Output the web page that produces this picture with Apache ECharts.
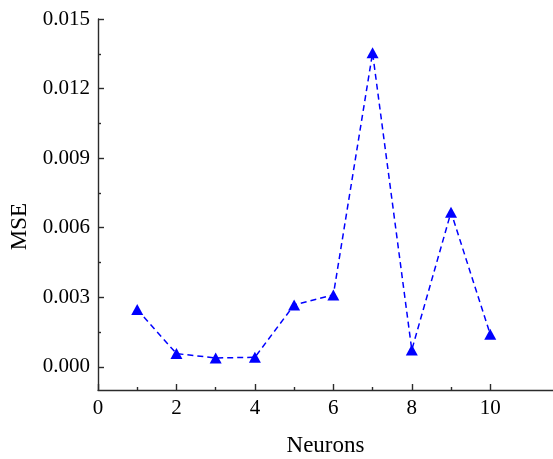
<!DOCTYPE html>
<html>
<head>
<meta charset="utf-8">
<script src="https://cdn.jsdelivr.net/npm/echarts@6/dist/echarts.min.js"></script>
<style>
  html, body { margin: 0; padding: 0; background: #fff; }
  #chart { width: 553px; height: 459px; }
</style>
</head>
<body>
<div id="chart"></div>
<script>
// Training error for networks with 1..10 hidden neurons
const neurons = [1, 2, 3, 4, 5, 6, 7, 8, 9, 10];
const mse = [0.00247, 0.00057, 0.00038, 0.00041, 0.00267, 0.0031, 0.01354, 0.00073, 0.00667, 0.0014];

// Axis tick positions
const xMajorTicks = [0, 2, 4, 6, 8, 10];
const xMinorTicks = [1, 3, 5, 7, 9];
const yMajorTicks = [0, 0.003, 0.006, 0.009, 0.012, 0.015];
const yMinorTicks = [0.0015, 0.0045, 0.0075, 0.0105, 0.0135];

const FONT = '"Liberation Serif", "Times New Roman", serif';
const AXIS_COLOR = '#2b2b2b';

const xRange = { min: 0, max: 11.6 };
const yRange = { min: -0.001, max: 0.015 };

const chart = echarts.init(document.getElementById('chart'), null, { renderer: 'canvas' });

chart.setOption({
  backgroundColor: '#ffffff',
  animation: false,
  grid: { left: 98, right: 0, top: 19, bottom: 69, containLabel: false, outerBoundsMode: 'none' },
  xAxis: [
    {
      type: 'value',
      min: xRange.min, max: xRange.max,
      name: 'Neurons',
      nameLocation: 'middle',
      nameGap: 44,
      nameTextStyle: { fontFamily: FONT, fontSize: 23, color: '#000' },
      axisLine: { show: true, onZero: false, lineStyle: { color: AXIS_COLOR, width: 1.4 } },
      axisTick: { show: true, inside: true, length: 6, customValues: xMajorTicks, lineStyle: { color: AXIS_COLOR, width: 1.4 } },
      axisLabel: { customValues: xMajorTicks, margin: 8, fontFamily: FONT, fontSize: 21, color: '#000' },
      splitLine: { show: false }
    },
    {
      type: 'value',
      position: 'bottom',
      min: xRange.min, max: xRange.max,
      axisLine: { show: false, onZero: false },
      axisTick: { show: true, inside: true, length: 3, customValues: xMinorTicks, lineStyle: { color: AXIS_COLOR, width: 1.4 } },
      axisLabel: { show: false },
      splitLine: { show: false }
    }
  ],
  yAxis: [
    {
      type: 'value',
      min: yRange.min, max: yRange.max,
      name: 'MSE',
      nameLocation: 'middle',
      nameGap: 59,
      nameRotate: 90,
      nameTextStyle: { fontFamily: FONT, fontSize: 23, color: '#000', padding: [0, 44, 0, 0] },
      axisLine: { show: true, onZero: false, lineStyle: { color: AXIS_COLOR, width: 1.4 } },
      axisTick: { show: true, inside: true, length: 6, customValues: yMajorTicks, lineStyle: { color: AXIS_COLOR, width: 1.4 } },
      axisLabel: {
        customValues: yMajorTicks, margin: 8, fontFamily: FONT, fontSize: 21, color: '#000',
        formatter: v => v.toFixed(3)
      },
      splitLine: { show: false }
    },
    {
      type: 'value',
      position: 'left',
      min: yRange.min, max: yRange.max,
      axisLine: { show: false, onZero: false },
      axisTick: { show: true, inside: true, length: 3, customValues: yMinorTicks, lineStyle: { color: AXIS_COLOR, width: 1.4 } },
      axisLabel: { show: false },
      splitLine: { show: false }
    }
  ],
  series: [
    {
      type: 'line',
      xAxisIndex: 0,
      yAxisIndex: 0,
      data: neurons.map((n, i) => [n, mse[i]]),
      symbol: 'triangle',
      symbolSize: [12, 11],
      itemStyle: { color: '#0000ff' },
      lineStyle: { color: '#0000ff', width: 1.5, type: [6, 4] },
      clip: false
    }
  ]
});
</script>
</body>
</html>
